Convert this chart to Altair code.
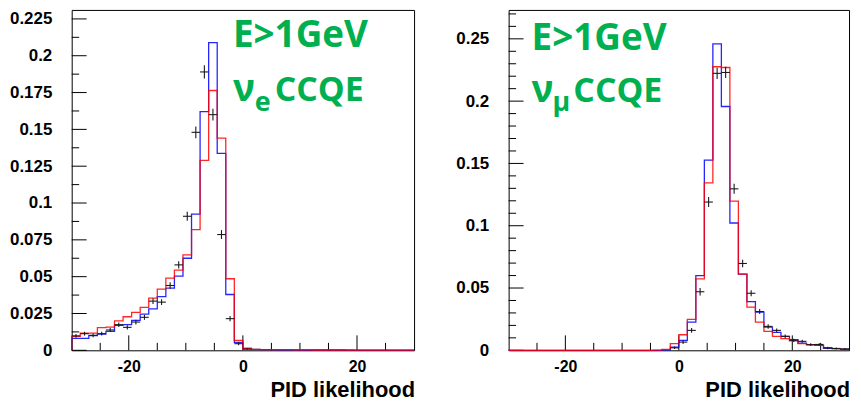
import altair as alt
import pandas as pd

# ---------------- data ----------------
BIN_EDGES = [-30.0, -28.5, -27.0, -25.5, -24.0, -22.5, -21.0, -19.5, -18.0, -16.5,
             -15.0, -13.5, -12.0, -10.5, -9.0, -7.5, -6.0, -4.5, -3.0, -1.5,
             0.0, 1.5, 3.0, 4.5, 6.0, 7.5, 9.0, 10.5, 12.0, 13.5,
             15.0, 16.5, 18.0, 19.5, 21.0, 22.5, 24.0, 25.5, 27.0, 28.5, 30.0]

# left panel: nu_e CCQE, E>1GeV
E_BLUE = [0.0081, 0.0081, 0.0100, 0.0110, 0.0129, 0.0169, 0.0174, 0.0203, 0.0246, 0.0282,
          0.0364, 0.0422, 0.0503, 0.0625, 0.0924, 0.1620, 0.2089, 0.1337, 0.0379, 0.0054,
          0.0012, 0.0006, 0.0004, 0.0004, 0.0003, 0.0003, 0.0003, 0.0002, 0.0002, 0.0002,
          0.0002, 0.0002, 0.0001, 0.0001, 0.0001, 0.0001, 0.0001, 0.0001, 0.0001, 0.0001]
E_RED = [0.0095, 0.0117, 0.0117, 0.0154, 0.0158, 0.0200, 0.0228, 0.0257, 0.0291, 0.0354,
         0.0415, 0.0490, 0.0544, 0.0648, 0.0820, 0.1290, 0.1764, 0.1441, 0.0486, 0.0068,
         0.0014, 0.0007, 0.0005, 0.0005, 0.0004, 0.0004, 0.0003, 0.0003, 0.0002, 0.0002,
         0.0002, 0.0002, 0.0002, 0.0001, 0.0001, 0.0001, 0.0001, 0.0001, 0.0001, 0.0001]
E_DATA = [0.0098, 0.0113, 0.0102, 0.0113, 0.0138, 0.0174, 0.0156, 0.0192, 0.0224, 0.0334,
          0.0327, 0.0440, 0.0580, 0.0910, 0.1480, 0.1890, 0.1600, 0.0786, 0.0215, 0.0045,
          0.0008]
E_ERR = [0.0012, 0.0013, 0.0013, 0.0013, 0.0014, 0.0015, 0.0015, 0.0016, 0.0017, 0.0020,
         0.0020, 0.0022, 0.0025, 0.0030, 0.0040, 0.0045, 0.0040, 0.0030, 0.0018, 0.0010,
         0.0005]
E_DATA_FIRST_BIN = 0

# right panel: nu_mu CCQE, E>1GeV
M_BLUE = [0, 0, 0, 0, 0, 0, 0, 0, 0, 0,
          0, 0, 0, 0, 0, 0, 0, 0, 0.0003, 0.0026,
          0.0080, 0.0226, 0.0600, 0.1526, 0.2460, 0.1957, 0.1022, 0.0612, 0.0390, 0.0306,
          0.0186, 0.0144, 0.0112, 0.0085, 0.0058, 0.0045, 0.0040, 0.0016, 0.0013, 0.0009]
M_RED = [0, 0, 0, 0, 0, 0, 0, 0, 0, 0,
         0, 0, 0, 0, 0, 0, 0, 0.0002, 0.0008, 0.0053,
         0.0125, 0.0248, 0.0573, 0.1344, 0.2276, 0.2270, 0.1198, 0.0612, 0.0346, 0.0226,
         0.0152, 0.0112, 0.0093, 0.0075, 0.0053, 0.0045, 0.0040, 0.0021, 0.0013, 0.0008]
M_DATA = [0.0020, 0.0066, 0.0160, 0.0470, 0.1190, 0.2223, 0.2230, 0.1296, 0.0697, 0.0458,
          0.0311, 0.0192, 0.0160, 0.0112, 0.0080, 0.0072, 0.0045, 0.0047, 0.0019, 0.0015,
          0.0010]
M_ERR = [0.0010, 0.0015, 0.0020, 0.0030, 0.0040, 0.0045, 0.0045, 0.0040, 0.0030, 0.0025,
         0.0020, 0.0018, 0.0016, 0.0015, 0.0013, 0.0012, 0.0011, 0.0010, 0.0010, 0.0008,
         0.0008]
M_DATA_FIRST_BIN = 19

LEFT_Y_MAJOR = [0, 0.025, 0.05, 0.075, 0.1, 0.125, 0.15, 0.175, 0.2, 0.225]
LEFT_Y_MINOR = [0.0125, 0.0375, 0.0625, 0.0875, 0.1125, 0.1375, 0.1625, 0.1875, 0.2125]
RIGHT_Y_MAJOR = [0, 0.05, 0.1, 0.15, 0.2, 0.25]
RIGHT_Y_MINOR = [0.01, 0.02, 0.03, 0.04, 0.06, 0.07, 0.08, 0.09, 0.11, 0.12, 0.13, 0.14,
                 0.16, 0.17, 0.18, 0.19, 0.21, 0.22, 0.23, 0.24, 0.26, 0.27]
X_MAJOR = [-20, 0, 20]
X_MINOR = [-25, -15, -10, -5, 5, 10, 15, 25]

LEFT_YMAX = 0.2311
RIGHT_YMAX = 0.2732

W_LEFT, W_RIGHT, H = 344, 342, 342
GREEN = "#00b050"
LABEL_FONT = "Liberation Sans"
ANNOT_FONT = "Open Sans"


def step_frame(vals):
    rows = [{"x": BIN_EDGES[0], "v": 0.0, "i": 0}]
    for k, v in enumerate(vals):
        rows.append({"x": BIN_EDGES[k], "v": v, "i": k + 1})
    rows.append({"x": BIN_EDGES[-1], "v": vals[-1], "i": len(vals) + 1})
    return pd.DataFrame(rows)


def data_frame(vals, errs, first):
    rows = []
    for k, (v, e) in enumerate(zip(vals, errs)):
        b = first + k
        lo, hi = BIN_EDGES[b], BIN_EDGES[b + 1]
        rows.append({"lo": lo, "hi": hi, "c": (lo + hi) / 2, "v": v,
                     "elo": max(v - e, 0), "ehi": v + e})
    return pd.DataFrame(rows)


def panel(blue, red, dvals, derr, dfirst, ymax, ymaj, ymin, width, texts):
    xs = alt.Scale(domain=[-30, 30], nice=False, zero=False)
    ys = alt.Scale(domain=[0, ymax], nice=False, zero=True)
    xax = alt.Axis(values=X_MAJOR, labelExpr="datum.value + ''", ticks=False, domain=False,
                   grid=False, labelFont=LABEL_FONT, labelFontWeight="bold", labelFontSize=16,
                   labelColor="black", labelPadding=8, title=None)
    yax = alt.Axis(values=ymaj, format=".4~f", ticks=False, domain=False, grid=False,
                   labelFont=LABEL_FONT, labelFontWeight="bold", labelFontSize=17,
                   labelColor="black", labelPadding=20, title=None)

    def X(f):
        return alt.X(f, type="quantitative", scale=xs, axis=xax)

    def Y(f):
        return alt.Y(f, type="quantitative", scale=ys, axis=yax)

    layers = []
    # y ticks (inward)
    layers.append(alt.Chart(pd.DataFrame({"v": ymaj})).mark_rule(
        color="black", strokeWidth=1).encode(y=Y("v"), x=alt.value(0), x2=alt.value(15)))
    layers.append(alt.Chart(pd.DataFrame({"v": ymin})).mark_rule(
        color="black", strokeWidth=1).encode(y=Y("v"), x=alt.value(0), x2=alt.value(7.5)))
    # x ticks (inward)
    layers.append(alt.Chart(pd.DataFrame({"v": X_MAJOR})).mark_rule(
        color="black", strokeWidth=1).encode(x=X("v"), y=alt.value(H), y2=alt.value(H - 15)))
    layers.append(alt.Chart(pd.DataFrame({"v": X_MINOR})).mark_rule(
        color="black", strokeWidth=1).encode(x=X("v"), y=alt.value(H), y2=alt.value(H - 7.5)))

    # histograms
    for vals, col in ((blue, "#0000ff"), (red, "#ff0000")):
        layers.append(alt.Chart(step_frame(vals)).mark_line(
            color=col, strokeWidth=1.3, interpolate="step-after", opacity=0.85).encode(
            x=X("x"), y=Y("v"), order=alt.Order("i:Q")))

    # data crosses
    dd = data_frame(dvals, derr, dfirst)
    layers.append(alt.Chart(dd).mark_rule(color="#1a1a1a", strokeWidth=1.1).encode(
        x=X("lo"), x2="hi", y=Y("v")))
    layers.append(alt.Chart(dd).mark_rule(color="#1a1a1a", strokeWidth=1.1).encode(
        x=X("c"), y=Y("elo"), y2="ehi"))

    # axis title
    layers.append(alt.Chart(pd.DataFrame({"t": ["PID likelihood"]})).mark_text(
        font=LABEL_FONT, fontWeight="bold", fontSize=22, align="right",
        baseline="alphabetic", color="black").encode(
        text="t:N", x=alt.value(width + 1), y=alt.value(389)))

    # green annotations
    for txt, x, y, size in texts:
        layers.append(alt.Chart(pd.DataFrame({"t": [txt]})).mark_text(
            font=ANNOT_FONT, fontWeight="bold", fontSize=size, align="left",
            baseline="alphabetic", color=GREEN).encode(
            text="t:N", x=alt.value(x), y=alt.value(y)))

    return alt.layer(*layers).properties(width=width, height=H)


left = panel(E_BLUE, E_RED, E_DATA, E_ERR, E_DATA_FIRST_BIN, LEFT_YMAX,
             LEFT_Y_MAJOR, LEFT_Y_MINOR, W_LEFT,
             [("E>1GeV", 162, 37, 37), ("\u03bd", 162, 92, 37), ("e", 184, 102, 27),
              ("CCQE", 204, 92, 34)])
right = panel(M_BLUE, M_RED, M_DATA, M_ERR, M_DATA_FIRST_BIN, RIGHT_YMAX,
              RIGHT_Y_MAJOR, RIGHT_Y_MINOR, W_RIGHT,
              [("E>1GeV", 23, 40, 37), ("\u03bd", 23, 93, 37), ("\u03bc", 44, 102, 27),
               ("CCQE", 65, 93, 34)])

chart = alt.hconcat(left, right, spacing=95, bounds="flush").properties(
    padding={"left": 0, "top": 0, "right": 0, "bottom": 0}
).configure_view(stroke="black", strokeWidth=1)

chart.save("out.html", embed_options={"renderer": "svg", "actions": False})
